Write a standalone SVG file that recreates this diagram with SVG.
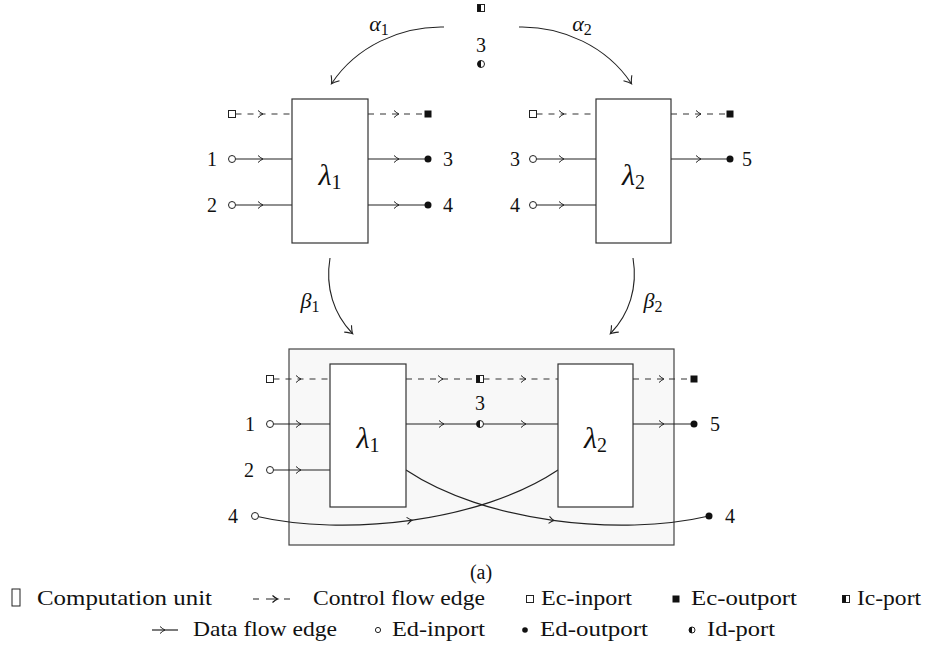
<svg xmlns="http://www.w3.org/2000/svg" xmlns:xlink="http://www.w3.org/1999/xlink" width="926" height="662" viewBox="0 0 926 662">
<style>
.box{fill:#fff;stroke:#333;stroke-width:1.2}
.outer{fill:#f8f8f8;stroke:#444;stroke-width:1.2}
.ctl{fill:none;stroke:#333;stroke-width:1.2;stroke-dasharray:6 6;marker-mid:url(#ah)}
.dat{fill:none;stroke:#222;stroke-width:1.2;marker-mid:url(#ah)}
.arc{fill:none;stroke:#222;stroke-width:1.1;marker-end:url(#ae)}
text{font-family:'Liberation Serif','DejaVu Serif',serif;fill:#111}
.t{font-size:20px}
.g{font-size:22px}
.c{text-anchor:middle}
.m{font-style:italic}
.lam{font-size:30px}
.leg{font-size:22px}
</style>
<defs>
<marker id="ah" viewBox="-6 -6 12 12" markerWidth="12" markerHeight="12" refX="0" refY="0" orient="auto" markerUnits="userSpaceOnUse">
<path d="M-4,-3.5 Q-1,-0.8 1,0 Q-1,0.8 -4,3.5" fill="none" stroke="#222" stroke-width="1"/>
</marker>
<marker id="ae" viewBox="-8 -8 16 16" markerWidth="16" markerHeight="16" refX="0" refY="0" orient="auto" markerUnits="userSpaceOnUse">
<path d="M-6,-5 Q-1.5,-1 1,0 Q-1.5,1 -6,5" fill="none" stroke="#222" stroke-width="1.1"/>
</marker>
<g id="p-ein"><rect x="-3.5" y="-3.5" width="7" height="7" fill="#fff" stroke="#222" stroke-width="1"/></g>
<g id="p-eout"><rect x="-3.5" y="-3.5" width="7" height="7" fill="#111"/></g>
<g id="p-ic"><rect x="-3.5" y="-3.5" width="7" height="7" fill="#fff" stroke="#222" stroke-width="1"/><rect x="-3.5" y="-3.5" width="3.5" height="7" fill="#111"/></g>
<g id="p-din"><circle r="3.5" fill="#fff" stroke="#222" stroke-width="1"/></g>
<g id="p-dout"><circle r="3.5" fill="#111"/></g>
<g id="p-id"><circle r="3.5" fill="#fff" stroke="#222" stroke-width="1"/><path d="M0,-3.5 A3.5,3.5 0 0 0 0,3.5 Z" fill="#111"/></g>
</defs>

<g id="outer-unit"><rect class="outer" x="289" y="349" width="385" height="196"/></g>

<g id="connectors">
<path class="ctl" d="M235.5,114 L262,114 L292,114"/>
<path class="ctl" d="M368,114 L398,114 L424.5,114"/>
<path class="dat" d="M235.5,159 L262,159 L292,159"/>
<path class="dat" d="M235.5,205 L262,205 L292,205"/>
<path class="dat" d="M368,159 L398,159 L428,159"/>
<path class="dat" d="M368,205 L398,205 L428,205"/>
<path class="ctl" d="M536.5,114 L563,114 L596,114"/>
<path class="ctl" d="M671,114 L700,114 L726.5,114"/>
<path class="dat" d="M536.5,159 L563,159 L596,159"/>
<path class="dat" d="M536.5,205 L563,205 L596,205"/>
<path class="dat" d="M671,159 L700,159 L730,159"/>
<path class="ctl" d="M273.5,379 L300,379 L330,379"/>
<path class="ctl" d="M406,379 L442,379 L476.5,379"/>
<path class="ctl" d="M483.5,379 L525,379 L558,379"/>
<path class="ctl" d="M633,379 L663,379 L690.5,379"/>
<path class="dat" d="M273.5,424 L300,424 L330,424"/>
<path class="dat" d="M406,424 L443,424 L480,424"/>
<path class="dat" d="M480,424 L525,424 L558,424"/>
<path class="dat" d="M633,424 L663,424 L694,424"/>
<path class="dat" d="M273.5,470 L300,470 L330,470"/>
<path class="dat" d="M255,516 C300,526.5 356.25,528 411,520.375 C465.75,512.75 519,496 558,470"/>
<path class="dat" d="M406,470 C445,496 498.25,512.75 553,520.375 C607.75,528 664,526.5 709,516"/>
<path class="arc" d="M444,27 C400,26 356,47 332,83"/>
<path class="arc" d="M519,27 C563,26 607,47 631,83"/>
<path class="arc" d="M330,258 C325,288 334,314 352,333"/>
<path class="arc" d="M633,258 C638,288 629,314 611,333"/>
</g>

<g id="top-ports">
<use xlink:href="#p-ic" x="481" y="8"/>
<text class="t c" x="481" y="52">3</text>
<use xlink:href="#p-id" x="481" y="64"/>
</g>
<g id="labels-transform">
<text class="g c m" x="379" y="31">α<tspan font-size="16" font-style="normal" dy="4">1</tspan></text>
<text class="g c m" x="582" y="31">α<tspan font-size="16" font-style="normal" dy="4">2</tspan></text>
<text class="g c m" x="310" y="308">β<tspan font-size="16" font-style="normal" dy="4">1</tspan></text>
<text class="g c m" x="653" y="308">β<tspan font-size="16" font-style="normal" dy="4">2</tspan></text>
</g>

<g id="lambda1-top">
<rect class="box" x="292" y="99" width="76" height="144"/>
<text class="t c m lam" x="330" y="185">λ<tspan font-size="20" font-style="normal" dy="4">1</tspan></text>
<use xlink:href="#p-ein" x="232" y="114"/>
<use xlink:href="#p-eout" x="428" y="114"/>
<use xlink:href="#p-din" x="232" y="159"/>
<use xlink:href="#p-din" x="232" y="205"/>
<use xlink:href="#p-dout" x="428" y="159"/>
<use xlink:href="#p-dout" x="428" y="205"/>
<text class="t c" x="212" y="166">1</text>
<text class="t c" x="212" y="212">2</text>
<text class="t c" x="448" y="166">3</text>
<text class="t c" x="448" y="212">4</text>
</g>

<g id="lambda2-top">
<rect class="box" x="596" y="99" width="75" height="144"/>
<text class="t c m lam" x="633.5" y="185">λ<tspan font-size="20" font-style="normal" dy="4">2</tspan></text>
<use xlink:href="#p-ein" x="533" y="114"/>
<use xlink:href="#p-eout" x="730" y="114"/>
<use xlink:href="#p-din" x="533" y="159"/>
<use xlink:href="#p-din" x="533" y="205"/>
<use xlink:href="#p-dout" x="730" y="159"/>
<text class="t c" x="515" y="166">3</text>
<text class="t c" x="515" y="212">4</text>
<text class="t c" x="747" y="166">5</text>
</g>

<g id="lambda1-bottom">
<rect class="box" x="330" y="364" width="76" height="143"/>
<text class="t c m lam" x="368" y="448">λ<tspan font-size="20" font-style="normal" dy="4">1</tspan></text>
</g>
<g id="lambda2-bottom">
<rect class="box" x="558" y="364" width="75" height="143"/>
<text class="t c m lam" x="595.5" y="448">λ<tspan font-size="20" font-style="normal" dy="4">2</tspan></text>
</g>
<g id="bottom-ports">
<use xlink:href="#p-ein" x="270" y="379"/>
<use xlink:href="#p-ic" x="480" y="379"/>
<use xlink:href="#p-eout" x="694" y="379"/>
<use xlink:href="#p-din" x="270" y="424"/>
<use xlink:href="#p-id" x="480" y="424"/>
<use xlink:href="#p-dout" x="694" y="424"/>
<use xlink:href="#p-din" x="270" y="470"/>
<use xlink:href="#p-din" x="255" y="516"/>
<use xlink:href="#p-dout" x="709" y="516"/>
<text class="t c" x="480" y="410">3</text>
<text class="t c" x="250" y="431">1</text>
<text class="t c" x="249" y="477">2</text>
<text class="t c" x="233" y="523">4</text>
<text class="t c" x="715" y="431">5</text>
<text class="t c" x="730" y="523">4</text>
</g>

<text class="t c" x="481" y="579">(a)</text>

<g id="legend">
<rect x="12" y="589" width="8" height="17" fill="none" stroke="#222" stroke-width="1"/>
<text class="leg" x="37" y="605" textLength="175" lengthAdjust="spacingAndGlyphs">Computation unit</text>
<path d="M253,599 L259,599 M266,599 L277,599 M284,599 L290,599" fill="none" stroke="#222" stroke-width="1.2"/>
<path d="M272.5,595.5 Q275.5,598.2 277.8,599 Q275.5,599.8 272.5,602.5" fill="none" stroke="#111" stroke-width="1.2"/>
<text class="leg" x="313" y="605" textLength="172" lengthAdjust="spacingAndGlyphs">Control flow edge</text>
<use xlink:href="#p-ein" x="530" y="599"/>
<text class="leg" x="541" y="605" textLength="91" lengthAdjust="spacingAndGlyphs">Ec-inport</text>
<use xlink:href="#p-eout" x="676" y="599"/>
<text class="leg" x="691" y="605" textLength="106" lengthAdjust="spacingAndGlyphs">Ec-outport</text>
<use xlink:href="#p-ic" x="846" y="599"/>
<text class="leg" x="857" y="605" textLength="64" lengthAdjust="spacingAndGlyphs">Ic-port</text>

<path class="dat" d="M152,630 L164,630 L178,630"/>
<text class="leg" x="193" y="636" textLength="144" lengthAdjust="spacingAndGlyphs">Data flow edge</text>
<circle cx="378" cy="630" r="2.6" fill="#fff" stroke="#222" stroke-width="1"/>
<text class="leg" x="392" y="636" textLength="93" lengthAdjust="spacingAndGlyphs">Ed-inport</text>
<circle cx="525" cy="630" r="2.8" fill="#111"/>
<text class="leg" x="540" y="636" textLength="108" lengthAdjust="spacingAndGlyphs">Ed-outport</text>
<circle cx="692" cy="630" r="3" fill="#fff" stroke="#222" stroke-width="1"/>
<path d="M692,627 A3,3 0 0 0 692,633 Z" fill="#111"/>
<text class="leg" x="707" y="636" textLength="68" lengthAdjust="spacingAndGlyphs">Id-port</text>
</g>
</svg>
